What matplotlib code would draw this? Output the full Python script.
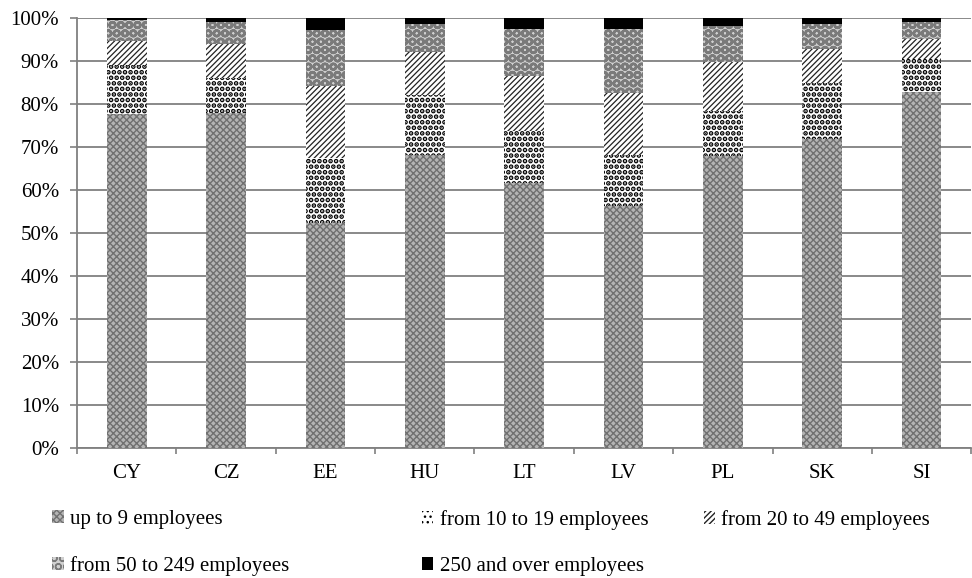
''' Stacked share of enterprises by size class, per country.
'''
import matplotlib
matplotlib.use('Agg')
import matplotlib.pyplot as plt
import numpy as np

countries = ['CY', 'CZ', 'EE', 'HU', 'LT', 'LV', 'PL', 'SK', 'SI']

up_to_9 = [77.6, 77.8, 52.4, 68.0, 61.7, 56.3, 67.9, 71.8, 82.8]
from_10_19 = [11.5, 8.3, 15.0, 14.0, 12.1, 11.7, 10.4, 13.0, 7.6]
from_20_49 = [5.6, 7.7, 16.8, 10.0, 12.7, 14.4, 11.5, 7.9, 4.7]
from_50_249 = [4.7, 5.2, 12.9, 6.5, 10.9, 15.0, 8.3, 5.8, 4.0]
over_250 = [0.6, 1.0, 2.9, 1.5, 2.6, 2.6, 1.9, 1.5, 0.9]

series_labels = ['up to 9 employees', 'from 10 to 19 employees',
                 'from 20 to 49 employees', 'from 50 to 249 employees',
                 '250 and over employees']

plt.rcParams['font.family'] = ['Liberation Serif', 'DejaVu Serif']

fig = plt.figure(figsize=(9.72, 5.78), dpi=100)
ax = fig.add_axes([0.0792, 0.2244, 0.92, 0.7450])

x = np.arange(len(countries))
width = 0.40

styles = [
    dict(color='#b4b4b4', hatch='xxxxx', edgecolor='#707070', hlw=1.0),
    dict(color='white', hatch='...', edgecolor='black', hlw=2.4),
    dict(color='white', hatch='//////', edgecolor='#222222', hlw=0.9),
    dict(color='#d0d0d0', hatch='OO', edgecolor='#7a7a7a', hlw=1.8),
    dict(color='black', hatch=None, edgecolor='black', hlw=1.0),
]

values = [up_to_9, from_10_19, from_20_49, from_50_249, over_250]
bottom = np.zeros(len(countries))
handles = []
for vals, lab, st in zip(values, series_labels, styles):
    vals = np.array(vals)
    plt.rcParams['hatch.linewidth'] = st['hlw']
    b = ax.bar(x, vals, width, bottom=bottom, label=lab, color=st['color'],
               hatch=st['hatch'], edgecolor=st['edgecolor'], linewidth=0,
               zorder=3)
    for p in b.patches:
        if hasattr(p, 'set_hatch_linewidth'):
            p.set_hatch_linewidth(st['hlw'])
    handles.append(b)
    bottom += vals

ax.set_ylim(0, 100)
ax.set_xlim(-0.5, len(countries) - 0.5)
ax.set_yticks(np.arange(0, 101, 10))
ax.set_yticklabels(['{}%'.format(v) for v in range(0, 101, 10)], fontsize=15)

# category boundaries as major ticks, labels at centres on minor ticks
ax.set_xticks(np.arange(-0.5, len(countries) + 0.5, 1.0))
ax.set_xticklabels([])
ax.set_xticks(x, minor=True)
ax.set_xticklabels(countries, minor=True, fontsize=15)
ax.tick_params(axis='x', which='minor', length=0, pad=11)
ax.tick_params(axis='x', which='major', length=4, color='#808080', width=1.2)
ax.tick_params(axis='y', length=5, color='#808080', width=1.2, pad=8)

ax.grid(axis='y', color='#808080', linewidth=1.3, zorder=0)
ax.set_axisbelow(True)
for side in ['top', 'right']:
    ax.spines[side].set_visible(False)
for side in ['left', 'bottom']:
    ax.spines[side].set_color('#808080')
    ax.spines[side].set_linewidth(1.3)

# legend laid out in three columns like the original
columns = [(0.054, [0, 3]), (0.434, [1, 4]), (0.724, [2])]
for xpos, idx in columns:
    fig.legend([handles[i] for i in idx], [series_labels[i] for i in idx],
               loc='upper left', bbox_to_anchor=(xpos, 0.118),
               frameon=False, fontsize=15, handlelength=0.55,
               handleheight=0.55, handletextpad=0.3, labelspacing=1.3,
               borderaxespad=0, borderpad=0)

fig.savefig('out.png', dpi=100)
